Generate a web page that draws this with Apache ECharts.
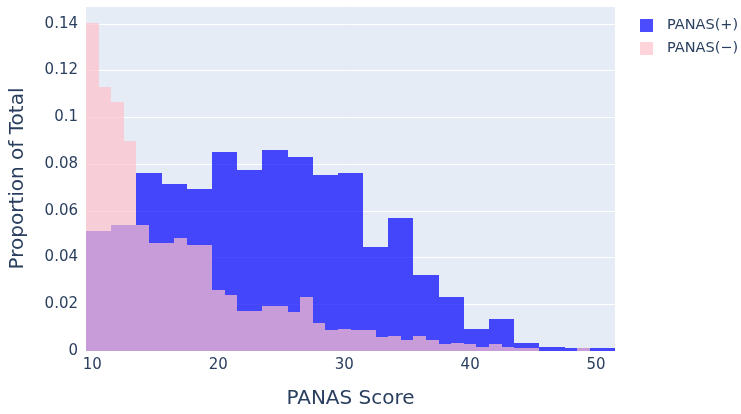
<!DOCTYPE html>
<html>
<head>
<meta charset="utf-8">
<script src="https://cdn.jsdelivr.net/npm/echarts@6/dist/echarts.min.js"></script>
<style>
  html, body { margin: 0; padding: 0; background: #fff; }
  #chart { width: 741px; height: 414px; }
</style>
</head>
<body>
<div id="chart"></div>
<script>
// Histogram bins (overlaid), proportions of total
const seriesNames = ['PANAS(+)', 'PANAS(−)'];
const posBinStart = 9.5;
const posBinSize = 2;
const posValues = [0.0512, 0.0541, 0.0763, 0.0716, 0.0694, 0.0853, 0.0776, 0.0861, 0.0831, 0.0754,
                   0.0763, 0.0447, 0.0570, 0.0327, 0.0233, 0.0096, 0.0135, 0.0036, 0.0019, 0.0011, 0.0011];
const negBinStart = 9.5;
const negBinSize = 1;
const negValues = [0.1404, 0.1130, 0.1066, 0.0900, 0.0541, 0.0464, 0.0464, 0.0485, 0.0455, 0.0455,
                   0.0263, 0.0241, 0.0173, 0.0173, 0.0194, 0.0194, 0.0165, 0.0233, 0.0118, 0.0088,
                   0.0096, 0.0088, 0.0088, 0.0058, 0.0066, 0.0049, 0.0066, 0.0049, 0.0028, 0.0036,
                   0.0028, 0.0019, 0.0028, 0.0019, 0.0011, 0.0011, 0, 0, 0, 0.0011];
const xTicks = [10, 20, 30, 40, 50];
const yTicks = [0, 0.02, 0.04, 0.06, 0.08, 0.1, 0.12, 0.14];

function toBins(start, size, values) {
  return values.map((v, i) => [start + i * size, start + (i + 1) * size, v]);
}

function renderBar(color) {
  return function (params, api) {
    const x0 = api.value(0), x1 = api.value(1), y = api.value(2);
    const p0 = api.coord([x0, y]);
    const p1 = api.coord([x1, 0]);
    const left = Math.round(p0[0]), right = Math.round(p1[0]);
    const top = Math.round(p0[1]), bottom = Math.round(p1[1]);
    return {
      type: 'rect',
      shape: { x: left, y: top, width: right - left, height: bottom - top },
      style: { fill: color, opacity: 0.7 }
    };
  };
}

const FONT = 'DejaVu Sans';
const TXT = '#2a3f5f';

const chart = echarts.init(document.getElementById('chart'), null, { renderer: 'canvas' });
chart.setOption({
  animation: false,
  textStyle: { fontFamily: FONT, color: TXT },
  grid: {
    left: 86, right: 126, top: 6, bottom: 62.5,
    show: true, backgroundColor: '#E5ECF6', borderWidth: 0
  },
  legend: {
    orient: 'vertical',
    left: 635, top: 13,
    icon: 'rect',
    itemWidth: 13, itemHeight: 13, itemGap: 8,
    textStyle: { fontFamily: FONT, fontSize: 14.5, color: TXT, padding: [0, 0, 0, 9] },
    data: seriesNames
  },
  xAxis: {
    type: 'value',
    min: 9.5, max: 51.5,
    name: 'PANAS Score',
    nameLocation: 'middle',
    nameGap: 38,
    nameTextStyle: { fontFamily: FONT, fontSize: 20, color: TXT },
    axisLine: { show: false },
    axisTick: { show: false },
    splitLine: { show: false },
    axisLabel: {
      fontFamily: FONT, fontSize: 15, color: TXT, margin: 7,
      formatter: v => (xTicks.some(t => Math.abs(t - v) < 1e-9) ? String(v) : '')
    }
  },
  yAxis: {
    type: 'value',
    min: 0, max: 0.1476, interval: 0.02,
    name: 'Proportion of Total',
    nameLocation: 'middle',
    nameGap: 58,
    nameTextStyle: { fontFamily: FONT, fontSize: 20, color: TXT },
    axisLine: { show: false },
    axisTick: { show: false },
    splitLine: { show: true, lineStyle: { color: '#ffffff', width: 1 } },
    axisLabel: {
      fontFamily: FONT, fontSize: 15, color: TXT, margin: 8,
      formatter: v => (yTicks.some(t => Math.abs(t - v) < 1e-9) ? String(+v.toFixed(2)) : '')
    }
  },
  series: [
    {
      name: seriesNames[0],
      type: 'custom',
      renderItem: renderBar('#0000ff'),
      itemStyle: { color: '#0000ff', opacity: 0.7 },
      encode: { x: [0, 1], y: 2 },
      data: toBins(posBinStart, posBinSize, posValues),
      z: 2
    },
    {
      name: seriesNames[1],
      type: 'custom',
      renderItem: renderBar('#ffc0cb'),
      itemStyle: { color: '#ffc0cb', opacity: 0.7 },
      encode: { x: [0, 1], y: 2 },
      data: toBins(negBinStart, negBinSize, negValues),
      z: 3
    }
  ]
});
</script>
</body>
</html>
